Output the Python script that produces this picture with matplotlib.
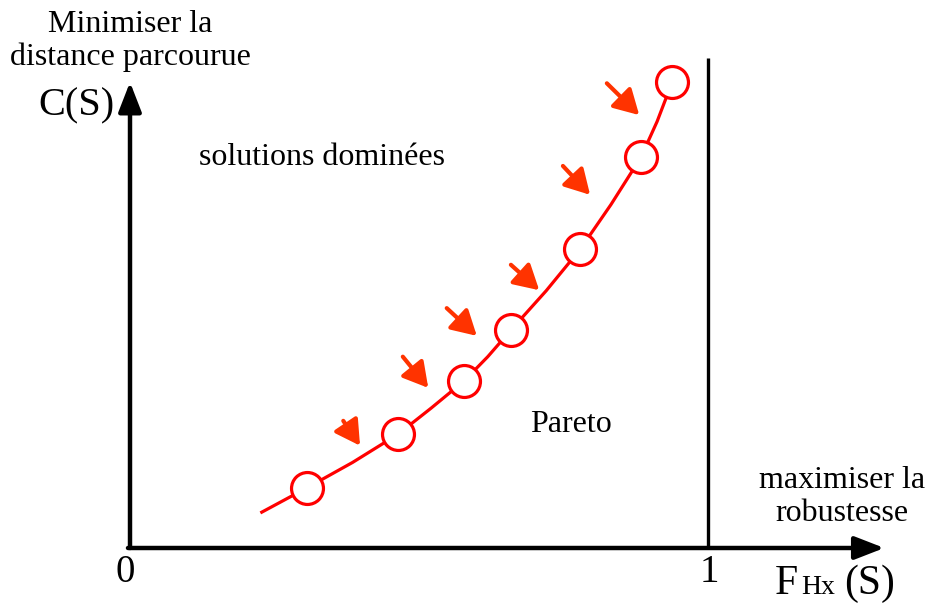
import matplotlib
matplotlib.use("Agg")
import matplotlib.pyplot as plt
import numpy as np

plt.rcParams['font.family'] = ['Liberation Serif', 'DejaVu Serif']

# Pareto solutions (x = robustness F_Hx(S), y = travelled distance C(S))
pareto_x = [0.306, 0.464, 0.578, 0.659, 0.779, 0.884, 0.938]
pareto_y = [0.104, 0.197, 0.289, 0.377, 0.517, 0.676, 0.806]

# front curve (starts a bit before first solution)
curve_x = [0.228, 0.306, 0.385, 0.464, 0.521, 0.578, 0.619, 0.659, 0.72, 0.779, 0.832, 0.884, 0.912, 0.938]
curve_y = [0.062, 0.104, 0.148, 0.197, 0.242, 0.289, 0.331, 0.377, 0.445, 0.517, 0.594, 0.676, 0.738, 0.806]

# small arrows pointing to the front (tail -> tip)
arrow_tail = [(0.369, 0.220), (0.472, 0.331), (0.548, 0.415), (0.659, 0.490), (0.749, 0.661), (0.825, 0.804)]
arrow_tip = [(0.398, 0.177), (0.516, 0.277), (0.600, 0.367), (0.708, 0.446), (0.796, 0.611), (0.881, 0.749)]

fig = plt.figure(figsize=(9.28, 6.07), dpi=100)
ax = fig.add_axes([0, 0, 1, 1])
ax.set_xlim(-130 / 578, 798 / 578)
ax.set_ylim(-59 / 578, 548 / 578)
ax.axis('off')

# axes arrows
ax.annotate('', xy=(1.305, 0), xytext=(-0.0035, 0),
            arrowprops=dict(arrowstyle='-|>,head_length=1.8,head_width=0.7', lw=3.2, color='black',
                            shrinkA=0, shrinkB=0))
ax.annotate('', xy=(0, 0.806), xytext=(0, 0),
            arrowprops=dict(arrowstyle='-|>,head_length=1.8,head_width=0.7', lw=3.2, color='black',
                            shrinkA=0, shrinkB=0))
ax.plot([1, 1], [0, 0.848], color='black', lw=2.4, solid_capstyle='butt')

ax.plot(curve_x, curve_y, color='#ff0000', lw=2.3, zorder=2, solid_joinstyle='round')
ax.plot(pareto_x, pareto_y, 'o', ms=23, mfc='white', mec='#ff0000', mew=2.3, zorder=3)

for (tx, ty), (hx, hy) in zip(arrow_tail, arrow_tip):
    ax.annotate('', xy=(hx, hy), xytext=(tx, ty),
                arrowprops=dict(arrowstyle='-|>,head_length=1.5,head_width=0.85', lw=3.0,
                                color='#ff3300', shrinkA=0, shrinkB=0))

fs = 23
ax.text(0.0, 0.877, 'Minimiser la\ndistance parcourue', ha='center', va='center',
        fontsize=fs, linespacing=1.15)
ax.text(-0.093, 0.765, 'C(S)', ha='center', va='center', fontsize=29)
ax.text(0.332, 0.675, 'solutions dominées', ha='center', va='center', fontsize=fs)
ax.text(0.763, 0.213, 'Pareto', ha='center', va='center', fontsize=fs)
ax.text(1.232, 0.088, 'maximiser la\nrobustesse', ha='center', va='center',
        fontsize=fs, linespacing=1.15)
ax.text(-0.009, -0.042, '0', ha='center', va='center', fontsize=28)
ax.text(1.003, -0.042, '1', ha='center', va='center', fontsize=28)
ax.text(1.135, -0.062, 'F', ha='center', va='center', fontsize=30)
ax.text(1.190, -0.068, 'Hx', ha='center', va='center', fontsize=20)
ax.text(1.280, -0.062, '(S)', ha='center', va='center', fontsize=30)

fig.savefig('out.png', dpi=100)
